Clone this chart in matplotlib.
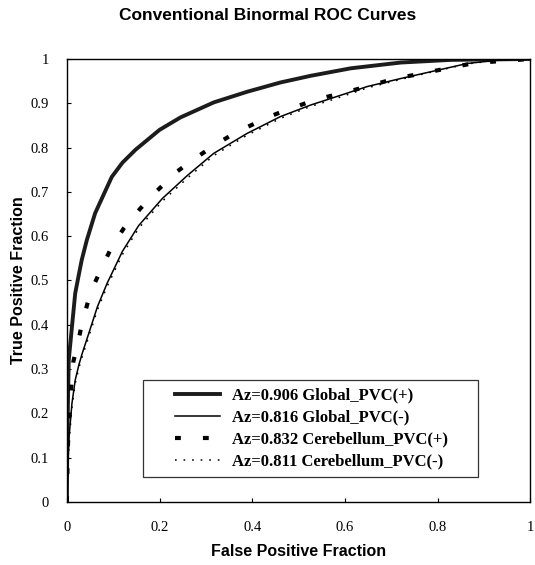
#!/usr/bin/env python3
"""Conventional binormal ROC curves (four Az values), redrawn from a scanned figure."""

import matplotlib

matplotlib.use("Agg")
import matplotlib.pyplot as plt
from matplotlib.legend_handler import HandlerLine2D
from matplotlib.lines import Line2D

# Global_PVC(+), Az=0.906 (thick solid)
GP_X = [0, 0.001, 0.004, 0.011, 0.018, 0.025, 0.032, 0.043, 0.061, 0.097, 0.12,
        0.148, 0.2, 0.245, 0.317, 0.389, 0.461, 0.526, 0.613, 0.721, 0.829, 0.92, 1.0]
GP_Y = [0, 0.15, 0.32, 0.396, 0.471, 0.509, 0.546, 0.591, 0.652, 0.734, 0.766,
        0.795, 0.84, 0.868, 0.902, 0.926, 0.947, 0.962, 0.979, 0.992, 0.998, 0.999, 1.0]

# Global_PVC(-), Az=0.816 (thin solid)
GM_X = [0, 0.002, 0.005, 0.011, 0.018, 0.026, 0.033, 0.048, 0.066, 0.087, 0.12,
        0.155, 0.206, 0.26, 0.317, 0.389, 0.461, 0.526, 0.576, 0.649, 0.721,
        0.793, 0.865, 0.937, 1.0]
GM_Y = [0, 0.08, 0.15, 0.223, 0.275, 0.31, 0.335, 0.383, 0.441, 0.494, 0.566,
        0.624, 0.685, 0.737, 0.787, 0.832, 0.870, 0.896, 0.913, 0.938, 0.956,
        0.973, 0.99, 0.998, 1.0]

# Cerebellum_PVC(+), Az=0.832 (dashed)
CP_X = [0, 0.002, 0.006, 0.014, 0.024, 0.033, 0.045, 0.06, 0.079, 0.097, 0.123,
        0.159, 0.195, 0.238, 0.277, 0.32, 0.364, 0.409, 0.452, 0.494, 0.533,
        0.62, 0.706, 0.793, 0.88, 1.0]
CP_Y = [0, 0.12, 0.22, 0.317, 0.36, 0.405, 0.45, 0.494, 0.537, 0.576, 0.618,
        0.663, 0.703, 0.746, 0.776, 0.806, 0.834, 0.856, 0.876, 0.892, 0.907,
        0.93, 0.955, 0.973, 0.991, 1.0]

# Cerebellum_PVC(-), Az=0.811 (dotted)
CM_X = [0, 0.002, 0.005, 0.011, 0.018, 0.026, 0.033, 0.048, 0.066, 0.087, 0.12,
        0.155, 0.206, 0.26, 0.317, 0.389, 0.461, 0.526, 0.576, 0.649, 0.721,
        0.793, 0.865, 0.937, 1.0]
CM_Y = [0, 0.075, 0.14, 0.215, 0.268, 0.303, 0.328, 0.376, 0.434, 0.487, 0.559,
        0.618, 0.679, 0.731, 0.782, 0.828, 0.866, 0.893, 0.909, 0.935, 0.954,
        0.972, 0.989, 0.998, 1.0]

LABELS = [
    "Az=0.906 Global_PVC(+)",
    "Az=0.816 Global_PVC(-)",
    "Az=0.832 Cerebellum_PVC(+)",
    "Az=0.811 Cerebellum_PVC(-)",
]
XTICKS = [0, 0.2, 0.4, 0.6, 0.8, 1.0]
TICK_LABELS_X = ["0", "0.2", "0.4", "0.6", "0.8", "1"]
YTICKS = [0, 0.1, 0.2, 0.3, 0.4, 0.5, 0.6, 0.7, 0.8, 0.9, 1.0]
TICK_LABELS_Y = ["0", "0.1", "0.2", "0.3", "0.4", "0.5", "0.6", "0.7", "0.8", "0.9", "1"]

SANS = "Liberation Sans"
SERIF = "Liberation Serif"


def main() -> None:
    fig = plt.figure(figsize=(5.35, 5.65), dpi=100)
    ax = fig.add_axes([0.125, 0.1115, 0.866, 0.7841])

    ax.plot(GP_X, GP_Y, color="#1c1c1c", linewidth=2.8, label=LABELS[0])
    ax.plot(GM_X, GM_Y, color="black", linewidth=1.1, label=LABELS[1])
    ax.plot(CP_X, CP_Y, color="black", linewidth=3.0, linestyle=(0, (1.4, 5.3)),
            label=LABELS[2])
    ax.plot(CM_X, CM_Y, color="black", linewidth=1.1, linestyle=(0, (1.1, 4.5)),
            label=LABELS[3])

    ax.set_xlim(0, 1)
    ax.set_ylim(0, 1)
    ax.set_xticks(XTICKS)
    ax.set_xticklabels(TICK_LABELS_X, fontfamily=SERIF, fontsize=10.5)
    ax.set_yticks(YTICKS)
    ax.set_yticklabels(TICK_LABELS_Y, fontfamily=SERIF, fontsize=10.5)
    ax.tick_params(direction="in", length=3, width=0.8)
    ax.tick_params(axis="x", pad=14)
    ax.tick_params(axis="y", pad=13)
    for spine in ax.spines.values():
        spine.set_linewidth(1.0)

    ax.set_xlabel("False Positive Fraction", fontfamily=SANS, fontweight="bold",
                  fontsize=11.5)
    ax.xaxis.set_label_coords(0.5, -0.095)
    ax.set_ylabel("True Positive Fraction", fontfamily=SANS, fontweight="bold",
                  fontsize=11.5)
    ax.yaxis.set_label_coords(-0.088, 0.5)

    fig.text(0.5, 1 - 16 / 565, "Conventional Binormal ROC Curves", ha="center",
             va="center", fontfamily=SANS, fontweight="bold", fontsize=12.5)

    leg = ax.legend(loc="lower left", bbox_to_anchor=(0.164, 0.056, 0.7235, 0.22),
                    mode="expand",
                    prop={"family": SERIF, "weight": "bold", "size": 12},
                    frameon=True, fancybox=False, handlelength=4.2,
                    handler_map={Line2D: HandlerLine2D(xpad=1.5)},
                    labelspacing=0.36, borderpad=0.45, handletextpad=0.72,
                    borderaxespad=0)
    leg.get_frame().set_edgecolor("black")
    leg.get_frame().set_linewidth(0.9)

    fig.savefig("out.png", dpi=100)
    plt.close(fig)


if __name__ == "__main__":
    main()
